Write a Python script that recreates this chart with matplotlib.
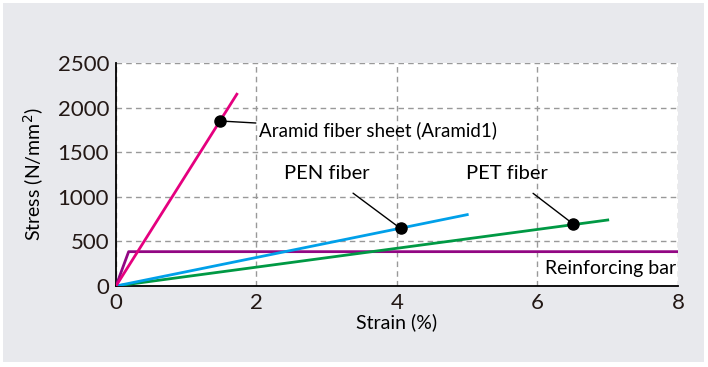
import matplotlib.pyplot as plt
from matplotlib.patches import Rectangle

# strain (%) / stress (N/mm2) curves
aramid_x = [0, 1.72]
aramid_y = [0, 2150]
pen_x = [0, 5.0]
pen_y = [0, 800]
pet_x = [0, 7.0]
pet_y = [0, 740]
bar_x = [0, 0.18, 8.0]
bar_y = [0, 385, 385]

# marker points for the labels
aramid_pt = (1.48, 1850)
pen_pt = (4.05, 645)
pet_pt = (6.5, 700)

xticks = [0, 2, 4, 6, 8]
yticks = [0, 500, 1000, 1500, 2000, 2500]

plt.rcParams['font.family'] = ['Lato', 'DejaVu Sans']

fig = plt.figure(figsize=(7.08, 3.67), dpi=100, facecolor='white')
fig.patches.append(Rectangle((3 / 708, 5 / 367), 701 / 708, 359 / 367,
                             transform=fig.transFigure, facecolor='#e8e9ed',
                             edgecolor='none', zorder=-10))
ax = fig.add_axes([116 / 708, 1 - 286 / 367, 562 / 708, 223 / 367])
ax.set_facecolor('white')

ax.plot(bar_x, bar_y, color='#920783', lw=2, zorder=3)
ax.plot(pet_x, pet_y, color='#009944', lw=2, zorder=3)
ax.plot(pen_x, pen_y, color='#00a0e9', lw=2, zorder=3)
ax.plot(aramid_x, aramid_y, color='#e5007f', lw=2, zorder=3)

for pt in (aramid_pt, pen_pt, pet_pt):
    ax.plot(*pt, 'o', color='black', ms=8, zorder=5)

ax.annotate('Aramid fiber sheet (Aramid1)', xy=aramid_pt, xytext=(2.03, 1750),
            fontsize=13.5, va='center', ha='left',
            arrowprops=dict(arrowstyle='-', color='black', lw=1, shrinkA=0, shrinkB=0))
ax.annotate('PEN fiber', xy=pen_pt, xytext=(3.0, 1260),
            fontsize=14.5, va='center', ha='center',
            arrowprops=dict(arrowstyle='-', color='black', lw=1,
                            shrinkA=10, shrinkB=0))
ax.annotate('PET fiber', xy=pet_pt, xytext=(5.57, 1260),
            fontsize=14.5, va='center', ha='center',
            arrowprops=dict(arrowstyle='-', color='black', lw=1,
                            shrinkA=10, shrinkB=0))
ax.text(7.98, 200, 'Reinforcing bar', fontsize=14, ha='right', va='center')

ax.set_xlim(0, 8)
ax.set_ylim(0, 2500)
ax.set_xticks(xticks)
ax.set_yticks(yticks)
ax.tick_params(labelsize=16, length=0, pad=5, colors='#231815')
ax.grid(True, color='#999999', ls=(0, (4, 3)), lw=1)
for side in ('top', 'right'):
    ax.spines[side].set_visible(False)
ax.spines['left'].set_linewidth(1.3)
ax.spines['bottom'].set_linewidth(1.3)
ax.set_xlabel('Strain (%)', fontsize=14, labelpad=0)
ax.set_ylabel('Stress (N/mm$^2$)', fontsize=14, labelpad=8)

fig.savefig('out.png', dpi=100, facecolor=fig.get_facecolor())
